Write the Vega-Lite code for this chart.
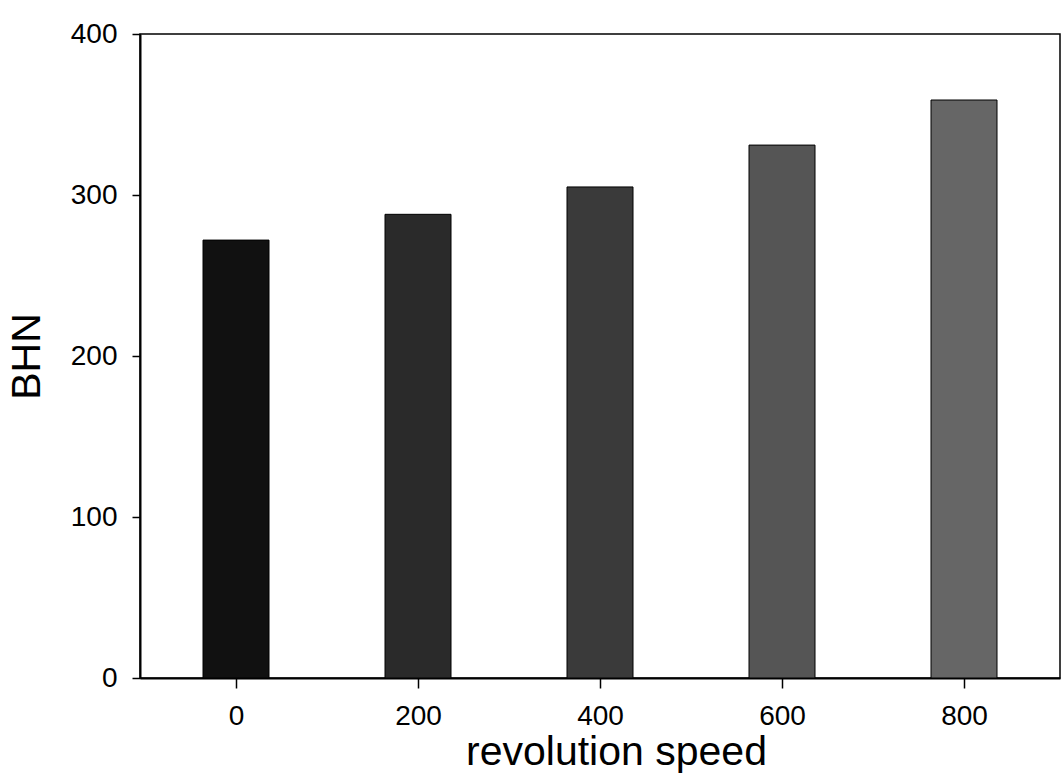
{
  "$schema": "https://vega.github.io/schema/vega-lite/v6.json",
  "width": 920,
  "height": 644,
  "autosize": "none",
  "padding": {"left": 140, "top": 34, "right": 3, "bottom": 102},
  "background": "white",
  "config": {
    "view": {"stroke": "black", "strokeWidth": 1.5},
    "axis": {
      "grid": false,
      "domainColor": "black",
      "tickColor": "black",
      "labelColor": "black",
      "titleColor": "black",
      "labelFont": "Liberation Sans",
      "titleFont": "Liberation Sans",
      "labelFontSize": 28,
      "titleFontSize": 41,
      "titleFontWeight": "normal",
      "domainWidth": 2,
      "tickWidth": 1.5
    }
  },
  "data": {
    "values": [
      {"speed": 0, "BHN": 272},
      {"speed": 200, "BHN": 288},
      {"speed": 400, "BHN": 305},
      {"speed": 600, "BHN": 331},
      {"speed": 800, "BHN": 359}
    ]
  },
  "mark": {"type": "bar", "size": 66, "stroke": "black", "strokeWidth": 1},
  "encoding": {
    "x": {
      "field": "speed",
      "type": "quantitative",
      "scale": {"domain": [-100, 900], "nice": false},
      "axis": {"values": [0, 200, 400, 600, 800], "title": "revolution speed", "tickSize": 10, "labelPadding": 14, "titlePadding": 2, "titleX": 476}
    },
    "y": {
      "field": "BHN",
      "type": "quantitative",
      "scale": {"domain": [0, 400], "nice": false},
      "axis": {"values": [0, 100, 200, 300, 400], "title": "BHN", "tickSize": 8, "labelPadding": 15, "titlePadding": 22}
    },
    "color": {
      "field": "speed",
      "type": "ordinal",
      "scale": {"domain": [0, 200, 400, 600, 800], "range": ["#111111", "#2a2a2a", "#3a3a3a", "#555555", "#666666"]},
      "legend": null
    }
  }
}
